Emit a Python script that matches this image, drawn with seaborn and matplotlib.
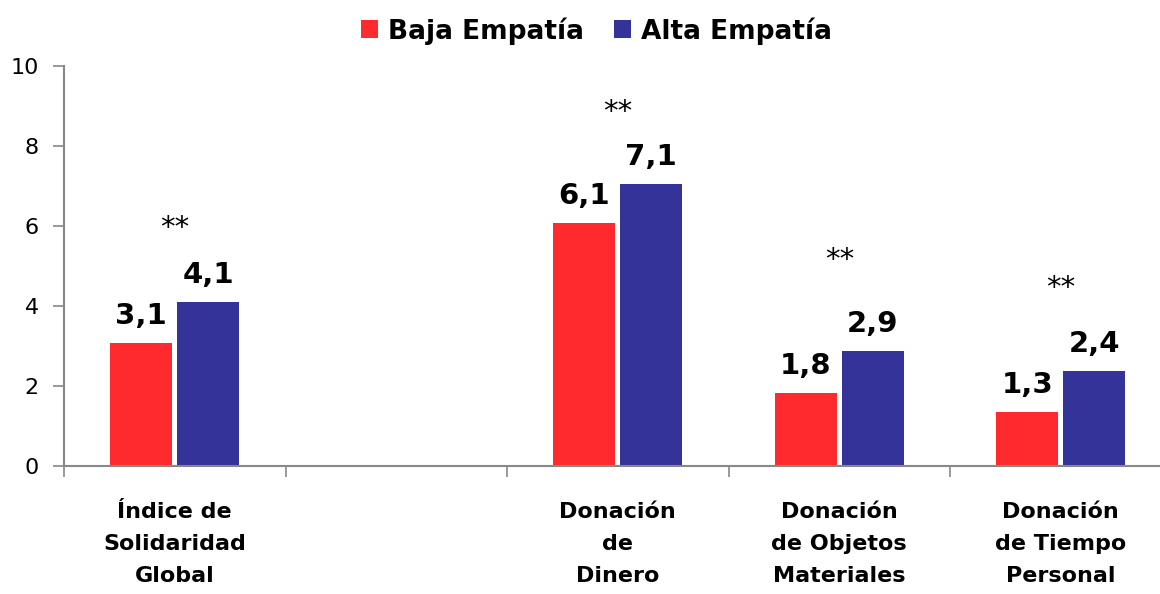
import matplotlib
matplotlib.use("Agg")
import matplotlib.pyplot as plt
import seaborn as sns
import pandas as pd
from matplotlib.ticker import FixedLocator

# ---- data ----
categories = ["Índice de\nSolidaridad\nGlobal", " ", "Donación\nde\nDinero",
              "Donación\nde Objetos\nMateriales", "Donación\nde Tiempo\nPersonal"]
groups = ["Baja Empatía", "Alta Empatía"]
baja = [3.07, None, 6.07, 1.83, 1.35]
alta = [4.10, None, 7.05, 2.88, 2.38]
baja_labels = ["3,1", "", "6,1", "1,8", "1,3"]
alta_labels = ["4,1", "", "7,1", "2,9", "2,4"]
signif = ["**", "", "**", "**", "**"]
signif_y = [5.95, None, 8.85, 5.15, 4.45]
yticks = [0, 2, 4, 6, 8, 10]

colors = {"Baja Empatía": "#FF2A2D", "Alta Empatía": "#343399"}

rows = []
for c, b, a in zip(categories, baja, alta):
    if b is not None:
        rows.append({"cat": c, "grupo": "Baja Empatía", "valor": b})
        rows.append({"cat": c, "grupo": "Alta Empatía", "valor": a})
df = pd.DataFrame(rows)

sns.set_style("white")
plt.rcParams['font.family'] = ['DejaVu Sans']
plt.rcParams['text.color'] = 'black'
plt.rcParams['xtick.color'] = 'black'
plt.rcParams['ytick.color'] = 'black'

fig = plt.figure(figsize=(11.6, 5.94), dpi=100)
ax = fig.add_axes([64/1160, 1-466/594, (1171.5-64)/1160, 400/594])

sns.barplot(data=df, x="cat", y="valor", hue="grupo", order=categories,
            hue_order=groups, palette=colors, width=0.604, gap=0.073,
            saturation=1, ax=ax, legend=True, linewidth=0, edgecolor="none")

ax.set_xlim(-0.5, 4.5)
ax.set_ylim(0, 10)
ax.set_yticks(yticks)
ax.set_yticklabels([str(t) for t in yticks], fontsize=16, color="black")
ax.set_xlabel("")
ax.set_ylabel("")
ax.set_xticks(range(len(categories)))
ax.set_xticklabels(categories, fontsize=16, fontweight="bold", linespacing=1.76,
                   color="black")
ax.tick_params(axis="x", which="major", length=0, pad=26)
ax.xaxis.set_minor_locator(FixedLocator([-0.5, 0.5, 1.5, 2.5, 3.5]))
ax.tick_params(axis="x", which="minor", bottom=True, length=8,
               color="#888888", width=1.2)
ax.tick_params(axis="y", which="major", length=8, color="#888888", width=1.2,
               left=True, pad=10)

for s in ["top", "right"]:
    ax.spines[s].set_visible(False)
for s in ["left", "bottom"]:
    ax.spines[s].set_color("#888888")
    ax.spines[s].set_linewidth(1.5)

# data labels
off = 0.151
for i in range(len(categories)):
    if baja[i] is None:
        continue
    ax.text(i - off, baja[i] + 0.33, baja_labels[i], ha="center", va="bottom",
            fontsize=21, fontweight="bold", color="black")
    ax.text(i + off, alta[i] + 0.33, alta_labels[i], ha="center", va="bottom",
            fontsize=21, fontweight="bold", color="black")
    ax.text(i, signif_y[i], signif[i], ha="center", va="center", fontsize=21,
            color="black")

# legend
handles, labels = ax.get_legend_handles_labels()
ax.legend_.remove()
fig.legend(handles, labels, loc="center", bbox_to_anchor=(0.514, 0.948), ncol=2,
           frameon=False, prop={"weight": "bold", "size": 19},
           handlelength=0.66, handleheight=0.66, handletextpad=0.35,
           columnspacing=1.15, labelcolor="black")

fig.savefig("out.png", dpi=100)
